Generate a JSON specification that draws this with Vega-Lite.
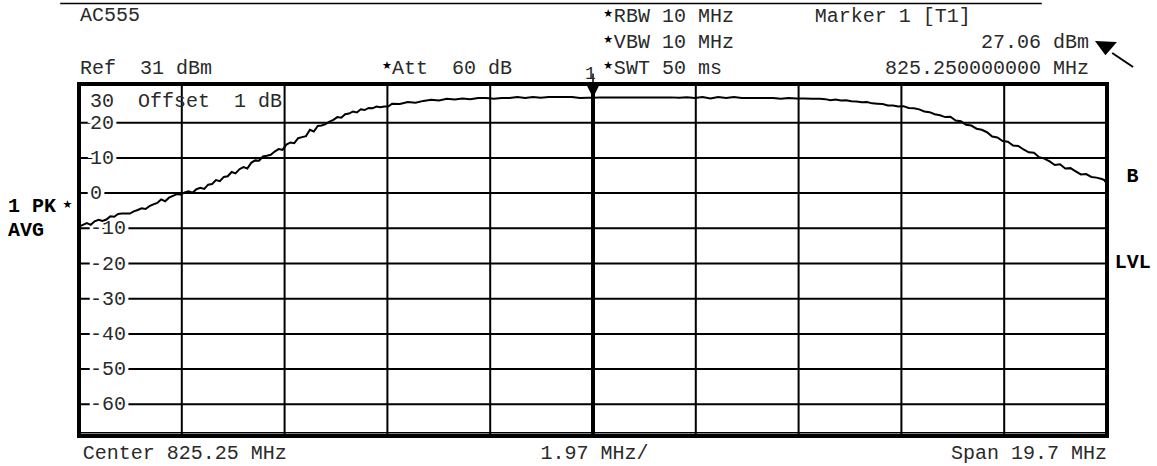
{
  "$schema": "https://vega.github.io/schema/vega-lite/v6.json",
  "width": 1028,
  "height": 352,
  "autosize": {"type": "none"},
  "padding": {"left": 79, "top": 84, "right": 50, "bottom": 30},
  "background": "white",
  "config": {
    "view": {"stroke": "black", "strokeWidth": 4},
    "axis": {"disable": true},
    "text": {"font": "Liberation Mono", "fontSize": 20, "color": "#2a2a2a", "baseline": "middle"}
  },
  "data": {"name": "single", "values": [{"one": 1}]},
  "datasets": {
    "trace": [
      {"f": 815.4, "dbm": -9.5}, {"f": 815.475, "dbm": -9.0}, {"f": 815.55, "dbm": -8.5}, {"f": 815.625, "dbm": -9.0},
      {"f": 815.7, "dbm": -8.0}, {"f": 815.775, "dbm": -7.6}, {"f": 815.85, "dbm": -7.9}, {"f": 815.925, "dbm": -7.5},
      {"f": 816.0, "dbm": -6.6}, {"f": 816.075, "dbm": -6.7}, {"f": 816.15, "dbm": -5.9}, {"f": 816.225, "dbm": -5.8},
      {"f": 816.3, "dbm": -5.8}, {"f": 816.375, "dbm": -5.8}, {"f": 816.45, "dbm": -5.2}, {"f": 816.525, "dbm": -4.8},
      {"f": 816.6, "dbm": -4.3}, {"f": 816.675, "dbm": -4.5}, {"f": 816.75, "dbm": -3.7}, {"f": 816.825, "dbm": -3.2},
      {"f": 816.9, "dbm": -2.8}, {"f": 816.975, "dbm": -1.8}, {"f": 817.05, "dbm": -2.3}, {"f": 817.125, "dbm": -1.3},
      {"f": 817.2, "dbm": -0.8}, {"f": 817.275, "dbm": -0.3}, {"f": 817.35, "dbm": -0.4}, {"f": 817.425, "dbm": 0.2},
      {"f": 817.5, "dbm": 0.5}, {"f": 817.575, "dbm": 0.1}, {"f": 817.65, "dbm": 1.1}, {"f": 817.725, "dbm": 1.5},
      {"f": 817.8, "dbm": 1.2}, {"f": 817.875, "dbm": 2.4}, {"f": 817.95, "dbm": 2.6}, {"f": 818.025, "dbm": 3.7},
      {"f": 818.1, "dbm": 3.4}, {"f": 818.175, "dbm": 4.6}, {"f": 818.25, "dbm": 4.8}, {"f": 818.325, "dbm": 6.0},
      {"f": 818.4, "dbm": 5.6}, {"f": 818.475, "dbm": 6.8}, {"f": 818.55, "dbm": 7.4}, {"f": 818.625, "dbm": 7.0},
      {"f": 818.7, "dbm": 8.6}, {"f": 818.775, "dbm": 9.3}, {"f": 818.85, "dbm": 9.2}, {"f": 818.925, "dbm": 10.4},
      {"f": 819.0, "dbm": 10.6}, {"f": 819.075, "dbm": 10.9}, {"f": 819.15, "dbm": 11.8}, {"f": 819.225, "dbm": 12.5},
      {"f": 819.3, "dbm": 12.3}, {"f": 819.375, "dbm": 13.8}, {"f": 819.45, "dbm": 14.4}, {"f": 819.525, "dbm": 14.2},
      {"f": 819.6, "dbm": 15.6}, {"f": 819.675, "dbm": 15.9}, {"f": 819.75, "dbm": 16.2}, {"f": 819.825, "dbm": 18.0},
      {"f": 819.9, "dbm": 17.5}, {"f": 819.975, "dbm": 19.1}, {"f": 820.05, "dbm": 19.2}, {"f": 820.125, "dbm": 19.6},
      {"f": 820.2, "dbm": 20.3}, {"f": 820.275, "dbm": 20.8}, {"f": 820.35, "dbm": 21.6}, {"f": 820.425, "dbm": 21.4},
      {"f": 820.5, "dbm": 22.4}, {"f": 820.575, "dbm": 22.6}, {"f": 820.65, "dbm": 23.2}, {"f": 820.725, "dbm": 22.9},
      {"f": 820.8, "dbm": 23.8}, {"f": 820.875, "dbm": 23.6}, {"f": 820.95, "dbm": 24.2}, {"f": 821.025, "dbm": 24.1},
      {"f": 821.1, "dbm": 24.6}, {"f": 821.175, "dbm": 24.4}, {"f": 821.25, "dbm": 24.6}, {"f": 821.325, "dbm": 24.6},
      {"f": 821.4, "dbm": 25.4}, {"f": 821.55, "dbm": 25.3}, {"f": 821.7, "dbm": 25.9}, {"f": 821.85, "dbm": 25.7},
      {"f": 822.0, "dbm": 26.2}, {"f": 822.15, "dbm": 26.5}, {"f": 822.3, "dbm": 26.3}, {"f": 822.45, "dbm": 26.8},
      {"f": 822.6, "dbm": 26.6}, {"f": 822.75, "dbm": 26.9}, {"f": 822.9, "dbm": 26.7}, {"f": 823.05, "dbm": 27.0},
      {"f": 823.2, "dbm": 27.0}, {"f": 823.35, "dbm": 26.8}, {"f": 823.5, "dbm": 27.0}, {"f": 823.65, "dbm": 27.0},
      {"f": 823.8, "dbm": 27.3}, {"f": 823.95, "dbm": 27.0}, {"f": 824.1, "dbm": 27.3}, {"f": 824.25, "dbm": 27.1},
      {"f": 824.4, "dbm": 27.3}, {"f": 824.55, "dbm": 27.3}, {"f": 824.7, "dbm": 27.3}, {"f": 824.85, "dbm": 27.3},
      {"f": 825.0, "dbm": 27.0}, {"f": 825.15, "dbm": 27.1}, {"f": 825.25, "dbm": 27.06}, {"f": 825.4, "dbm": 27.2},
      {"f": 825.55, "dbm": 27.2}, {"f": 825.7, "dbm": 27.2}, {"f": 825.85, "dbm": 27.2}, {"f": 826.0, "dbm": 27.2},
      {"f": 826.15, "dbm": 27.2}, {"f": 826.3, "dbm": 27.2}, {"f": 826.45, "dbm": 27.2}, {"f": 826.6, "dbm": 27.2},
      {"f": 826.75, "dbm": 27.2}, {"f": 826.9, "dbm": 27.1}, {"f": 827.05, "dbm": 27.2}, {"f": 827.2, "dbm": 27.0},
      {"f": 827.35, "dbm": 27.3}, {"f": 827.5, "dbm": 26.9}, {"f": 827.65, "dbm": 27.3}, {"f": 827.8, "dbm": 27.0},
      {"f": 827.95, "dbm": 27.3}, {"f": 828.1, "dbm": 27.0}, {"f": 828.25, "dbm": 27.0}, {"f": 828.4, "dbm": 27.0},
      {"f": 828.55, "dbm": 27.0}, {"f": 828.7, "dbm": 27.0}, {"f": 828.85, "dbm": 26.8}, {"f": 829.0, "dbm": 27.0},
      {"f": 829.15, "dbm": 26.9}, {"f": 829.3, "dbm": 26.9}, {"f": 829.45, "dbm": 26.8}, {"f": 829.6, "dbm": 26.8},
      {"f": 829.7, "dbm": 26.7}, {"f": 829.8, "dbm": 26.4}, {"f": 829.9, "dbm": 26.6}, {"f": 830.0, "dbm": 26.3},
      {"f": 830.1, "dbm": 26.4}, {"f": 830.2, "dbm": 26.1}, {"f": 830.3, "dbm": 26.0}, {"f": 830.4, "dbm": 25.8},
      {"f": 830.5, "dbm": 25.9}, {"f": 830.6, "dbm": 25.5}, {"f": 830.7, "dbm": 25.4}, {"f": 830.8, "dbm": 25.3},
      {"f": 830.9, "dbm": 24.9}, {"f": 831.0, "dbm": 24.9}, {"f": 831.1, "dbm": 24.6}, {"f": 831.2, "dbm": 24.7},
      {"f": 831.3, "dbm": 24.2}, {"f": 831.4, "dbm": 24.1}, {"f": 831.5, "dbm": 23.8}, {"f": 831.6, "dbm": 23.2},
      {"f": 831.7, "dbm": 23.0}, {"f": 831.8, "dbm": 22.4}, {"f": 831.9, "dbm": 22.1}, {"f": 832.0, "dbm": 21.6},
      {"f": 832.1, "dbm": 21.7}, {"f": 832.2, "dbm": 20.6}, {"f": 832.3, "dbm": 20.4}, {"f": 832.4, "dbm": 19.4},
      {"f": 832.5, "dbm": 19.2}, {"f": 832.6, "dbm": 18.3}, {"f": 832.7, "dbm": 18.0}, {"f": 832.8, "dbm": 17.3},
      {"f": 832.9, "dbm": 16.1}, {"f": 833.0, "dbm": 15.8}, {"f": 833.1, "dbm": 14.8}, {"f": 833.2, "dbm": 14.6},
      {"f": 833.3, "dbm": 13.5}, {"f": 833.4, "dbm": 13.4}, {"f": 833.5, "dbm": 12.4}, {"f": 833.6, "dbm": 11.6},
      {"f": 833.7, "dbm": 11.5}, {"f": 833.8, "dbm": 10.2}, {"f": 833.9, "dbm": 9.8}, {"f": 834.0, "dbm": 9.0},
      {"f": 834.1, "dbm": 8.0}, {"f": 834.2, "dbm": 8.2}, {"f": 834.3, "dbm": 7.0}, {"f": 834.4, "dbm": 7.1},
      {"f": 834.5, "dbm": 6.2}, {"f": 834.6, "dbm": 5.3}, {"f": 834.7, "dbm": 5.4}, {"f": 834.8, "dbm": 4.6},
      {"f": 834.9, "dbm": 4.4}, {"f": 835.0, "dbm": 4.0}, {"f": 835.05, "dbm": 3.7}, {"f": 835.1, "dbm": 2.6}
    ],
    "levels": [
      {"level": 20}, {"level": 10}, {"level": 0}, {"level": -10}, {"level": -20},
      {"level": -30}, {"level": -40}, {"level": -50}, {"level": -60}
    ],
    "divisions": [
      {"freq": 817.37}, {"freq": 819.34}, {"freq": 821.31}, {"freq": 823.28},
      {"freq": 827.22}, {"freq": 829.19}, {"freq": 831.16}, {"freq": 833.13}
    ],
    "marker": [{"f": 825.25, "dbm": 27.06}]
  },
  "layer": [
    {
      "data": {"name": "levels"},
      "mark": {"type": "rule", "color": "black", "strokeWidth": 2},
      "encoding": {
        "x": {"datum": 815.4, "type": "quantitative", "scale": {"domain": [815.4, 835.1], "nice": false, "zero": false}},
        "x2": {"datum": 835.1},
        "y": {"field": "level", "type": "quantitative", "scale": {"domain": [-69, 31], "nice": false, "zero": false}}
      }
    },
    {
      "data": {"name": "levels"},
      "mark": {"type": "text", "align": "left", "stroke": "white", "strokeWidth": 7, "fill": "white"},
      "encoding": {
        "x": {"datum": 815.611},
        "y": {"field": "level", "type": "quantitative"},
        "text": {"field": "level", "type": "nominal"}
      }
    },
    {
      "data": {"name": "levels"},
      "mark": {"type": "text", "align": "left"},
      "encoding": {
        "x": {"datum": 815.611},
        "y": {"field": "level", "type": "quantitative"},
        "text": {"field": "level", "type": "nominal"}
      }
    },
    {
      "data": {"name": "divisions"},
      "mark": {"type": "rule", "color": "black", "strokeWidth": 2},
      "encoding": {
        "x": {"field": "freq", "type": "quantitative"},
        "y": {"datum": -69},
        "y2": {"datum": 31}
      }
    },
    {
      "data": {"name": "marker"},
      "mark": {"type": "rule", "color": "black", "strokeWidth": 4},
      "encoding": {
        "x": {"field": "f", "type": "quantitative"},
        "y": {"datum": -69},
        "y2": {"datum": 31}
      }
    },
    {
      "data": {"name": "marker"},
      "mark": {"type": "rule", "color": "black", "strokeWidth": 1.5},
      "encoding": {
        "x": {"field": "f", "type": "quantitative"},
        "y": {"datum": 31},
        "y2": {"datum": 34}
      }
    },
    {
      "mark": {"type": "rule", "color": "black", "strokeWidth": 1.5},
      "encoding": {
        "x": {"datum": 815.4},
        "x2": {"datum": 835.1},
        "y": {"datum": -68.1}
      }
    },
    {
      "mark": {"type": "text", "align": "left", "text": "30\u00a0\u00a0Offset\u00a0\u00a01 dB"},
      "encoding": {"x": {"datum": 815.611}, "y": {"datum": 26.2}}
    },
    {
      "data": {"name": "trace"},
      "mark": {"type": "line", "color": "black", "strokeWidth": 2},
      "encoding": {
        "x": {"field": "f", "type": "quantitative"},
        "y": {"field": "dbm", "type": "quantitative"}
      }
    },
    {
      "data": {"name": "marker"},
      "mark": {"type": "point", "shape": "M-1,-2L1,-2L0,0Z", "filled": true, "color": "black", "size": 169, "opacity": 1},
      "encoding": {
        "x": {"field": "f", "type": "quantitative"},
        "y": {"field": "dbm", "type": "quantitative"}
      }
    },
    {
      "mark": {"type": "rule", "color": "black", "strokeWidth": 1.5},
      "encoding": {
        "x": {"datum": 815.04},
        "x2": {"datum": 833.85},
        "y": {"datum": 53.87}
      }
    },
    {
      "mark": {"type": "text", "align": "left", "text": "AC555"},
      "encoding": {"x": {"datum": 815.42}, "y": {"datum": 50.6}}
    },
    {
      "mark": {"type": "text", "align": "left", "text": "Ref\u00a0\u00a031 dBm"},
      "encoding": {"x": {"datum": 815.42}, "y": {"datum": 35.55}}
    },
    {
      "mark": {"type": "text", "align": "center", "text": "★", "font": "DejaVu Sans", "fontSize": 11, "color": "black"},
      "encoding": {"x": {"datum": 821.3}, "y": {"datum": 36.0}}
    },
    {
      "mark": {"type": "text", "align": "left", "text": "Att\u00a0\u00a060 dB"},
      "encoding": {"x": {"datum": 821.4}, "y": {"datum": 35.55}}
    },
    {
      "mark": {"type": "text", "align": "center", "text": "★", "font": "DejaVu Sans", "fontSize": 11, "color": "black"},
      "encoding": {"x": {"datum": 825.54}, "y": {"datum": 50.8}}
    },
    {
      "mark": {"type": "text", "align": "left", "text": "RBW 10 MHz"},
      "encoding": {"x": {"datum": 825.65}, "y": {"datum": 50.32}}
    },
    {
      "mark": {"type": "text", "align": "center", "text": "★", "font": "DejaVu Sans", "fontSize": 11, "color": "black"},
      "encoding": {"x": {"datum": 825.54}, "y": {"datum": 43.4}}
    },
    {
      "mark": {"type": "text", "align": "left", "text": "VBW 10 MHz"},
      "encoding": {"x": {"datum": 825.65}, "y": {"datum": 42.93}}
    },
    {
      "mark": {"type": "text", "align": "center", "text": "★", "font": "DejaVu Sans", "fontSize": 11, "color": "black"},
      "encoding": {"x": {"datum": 825.54}, "y": {"datum": 36.0}}
    },
    {
      "mark": {"type": "text", "align": "left", "text": "SWT 50 ms"},
      "encoding": {"x": {"datum": 825.65}, "y": {"datum": 35.55}}
    },
    {
      "mark": {"type": "text", "align": "left", "text": "Marker 1 [T1]"},
      "encoding": {"x": {"datum": 829.5}, "y": {"datum": 50.32}}
    },
    {
      "mark": {"type": "text", "align": "right", "text": "27.06 dBm"},
      "encoding": {"x": {"datum": 834.755}, "y": {"datum": 42.93}}
    },
    {
      "mark": {"type": "text", "align": "right", "text": "825.250000000 MHz"},
      "encoding": {"x": {"datum": 834.755}, "y": {"datum": 35.55}}
    },
    {
      "mark": {"type": "text", "align": "center", "text": "1", "fontSize": 18},
      "encoding": {"x": {"datum": 825.2}, "y": {"datum": 33.9}}
    },
    {
      "mark": {"type": "point", "shape": "M-1,-0.55L1,-0.45L-0.05,0.75Z", "filled": true, "color": "black", "size": 484, "opacity": 1},
      "encoding": {"x": {"datum": 835.08}, "y": {"datum": 41.51}}
    },
    {
      "mark": {"type": "rule", "color": "black", "strokeWidth": 2},
      "encoding": {
        "x": {"datum": 835.2},
        "x2": {"datum": 835.6},
        "y": {"datum": 39.8},
        "y2": {"datum": 35.83}
      }
    },
    {
      "mark": {"type": "text", "align": "left", "text": "1 PK", "fontWeight": "bold", "color": "black"},
      "encoding": {"x": {"datum": 814.04}, "y": {"datum": -3.66}}
    },
    {
      "mark": {"type": "text", "align": "center", "text": "★", "font": "DejaVu Sans", "fontSize": 11, "color": "black"},
      "encoding": {"x": {"datum": 815.18}, "y": {"datum": -3.3}}
    },
    {
      "mark": {"type": "text", "align": "left", "text": "AVG", "fontWeight": "bold", "color": "black"},
      "encoding": {"x": {"datum": 814.04}, "y": {"datum": -10.48}}
    },
    {
      "mark": {"type": "text", "align": "center", "text": "B", "fontWeight": "bold", "color": "black"},
      "encoding": {"x": {"datum": 835.59}, "y": {"datum": 5.0}}
    },
    {
      "mark": {"type": "text", "align": "left", "text": "LVL", "fontWeight": "bold", "color": "black"},
      "encoding": {"x": {"datum": 835.25}, "y": {"datum": -19.5}}
    },
    {
      "mark": {"type": "text", "align": "left", "text": "Center 825.25 MHz"},
      "encoding": {"x": {"datum": 815.47}, "y": {"datum": -73.8}}
    },
    {
      "mark": {"type": "text", "align": "center", "text": "1.97 MHz/"},
      "encoding": {"x": {"datum": 825.28}, "y": {"datum": -73.8}}
    },
    {
      "mark": {"type": "text", "align": "right", "text": "Span 19.7 MHz"},
      "encoding": {"x": {"datum": 835.1}, "y": {"datum": -73.8}}
    }
  ]
}
